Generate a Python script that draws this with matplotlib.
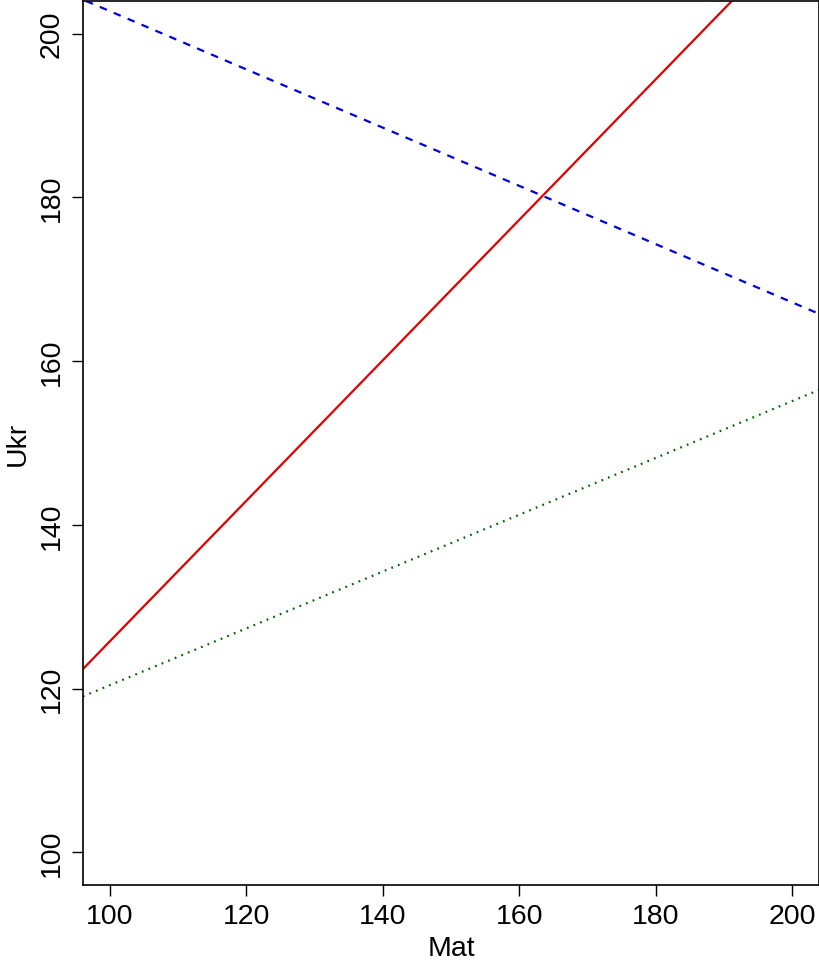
import matplotlib.pyplot as plt

plt.rcParams['font.family'] = ['Liberation Sans', 'DejaVu Sans']

# abline(a, b) style lines: y = a + b * x
intercepts = [40.05, 238.29, 85.74]
slopes = [0.8575, -0.3555, 0.3468]
colors = ["#E00000", "#0000DD", "#006400"]
styles = ["-", (0, (3.4, 3.4)), (0, (0.8, 2.4))]

xticks = [100, 120, 140, 160, 180, 200]
yticks = [100, 120, 140, 160, 180, 200]

fig = plt.figure(figsize=(8.2, 9.62), dpi=100)
ax = fig.add_axes([0.101, 0.079, 0.898, 0.919])

for a, b, c, ls in zip(intercepts, slopes, colors, styles):
    ax.axline((0, a), slope=b, color=c, linestyle=ls, linewidth=1.6)

ax.set_xlim(96, 204)
ax.set_ylim(96, 204)
ax.set_xticks(xticks)
ax.set_yticks(yticks)
ax.tick_params(labelsize=20.5, length=8, width=1, pad=5)
for lab in ax.get_yticklabels():
    lab.set_rotation(90)
    lab.set_va('center')
ax.set_xlabel("Mat", fontsize=20.5, labelpad=4)
ax.set_ylabel("Ukr", fontsize=20.5, labelpad=6)
for s in ax.spines.values():
    s.set_linewidth(1.2)

fig.savefig("out.png", dpi=100)
